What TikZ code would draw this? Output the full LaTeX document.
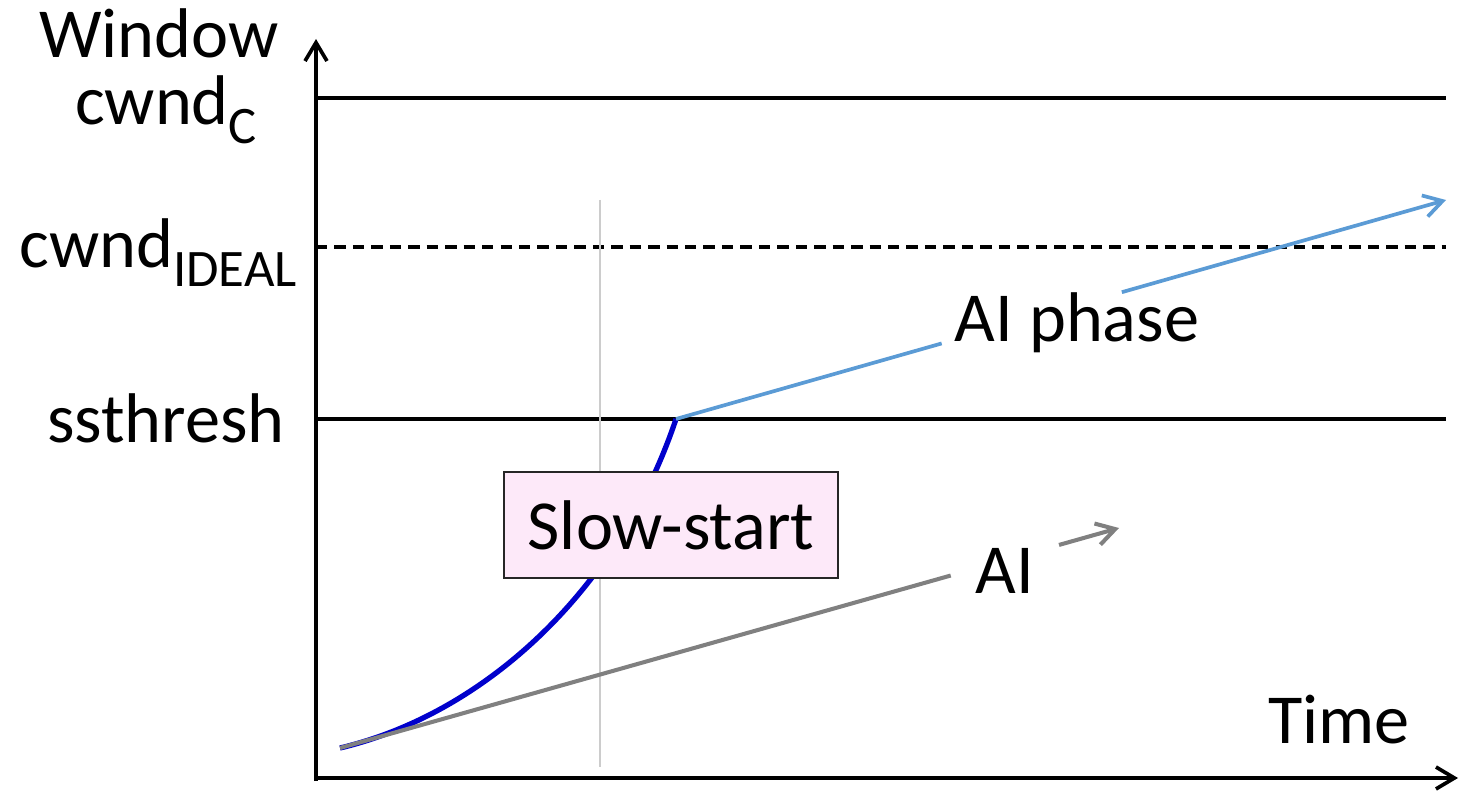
\documentclass[tikz,border=0pt]{standalone}
\usepackage{fontspec}
\setmainfont{Carlito}
\usetikzlibrary{arrows.meta,calc}

\definecolor{ssblue}{RGB}{0,0,204}
\definecolor{aiblue}{RGB}{91,155,213}
\definecolor{aigray}{RGB}{128,128,128}
\definecolor{sspink}{RGB}{253,233,249}

\newcommand\lowtext[1]{\raisebox{-0.26em}{\fontsize{30}{30}\selectfont #1}}

\tikzset{
	barb/.style={-{Straight Barb[length=10.5pt,width=12.5pt]}},
	axis/.style={line width=2.1pt,barb},
	level/.style={line width=2.1pt},
	lbl/.style={font=\fontsize{40}{48}\selectfont,inner sep=0pt,anchor=base}
}

\begin{document}
\begin{tikzpicture}[x=0.2mm,y=-0.2mm]
	\useasboundingbox (0,0) rectangle (1461,791);

	    % axes
	    \coordinate (o) at (316,778) ;
	    \draw[axis] (316,781) -- (316,39) ;
	    \draw[axis] (o) -- (1458,778) ;
	    \node[lbl] (win) at (159,58) {Window} ;
	    \node[lbl] (time) at (1339,743) {Time} ;

	    % levels
	    \draw[level] (316,98) -- (1446,98) ;
	    \draw[level,dashed,dash pattern=on 6.5pt off 4pt] (316,247) -- (1446,247) ;
	    \draw[level] (316,419) -- (1446,419) ;
	    \node[lbl] (cwc) at (166,125) {cwnd\lowtext{C}} ;
	    \node[lbl] (cwi) at (158,268) {cwnd\lowtext{IDEAL}} ;
	    \node[lbl] (ssth) at (166,443) {ssthresh} ;

	    \draw[gray!40,line width=0.7pt] (600,200) -- (600,767) ;

	    % slow start
	    \coordinate (st) at (340,748) ;
	    \coordinate (ssk) at (676,419) ;
	    \draw[ssblue,line width=3pt] (st) .. controls (480,715) and (617,595) .. (ssk) ;
	    \node[lbl,anchor=center,draw=black!85,line width=1.2pt,fill=sspink,
	        minimum width=334*0.2mm,minimum height=106*0.2mm] (ss) at (671,525) {Slow-start} ;

	    % AI phase
	    \coordinate (phtip) at (1446,200) ;
	    \draw[aiblue,line width=2.1pt] (ssk) -- ($(ssk)!0.345!(phtip)$) ;
	    \draw[aiblue,line width=2.1pt,barb] ($(ssk)!0.579!(phtip)$) -- (phtip) ;
	    \node[lbl] (aiph) at (1077,342) {AI phase} ;

	    % AI
	    \coordinate (aitip) at (1119,528) ;
	    \draw[aigray,line width=2.3pt] (st) -- ($(st)!0.784!(aitip)$) ;
	    \draw[aigray,line width=2.3pt,barb] ($(st)!0.923!(aitip)$) -- (aitip) ;
	    \node[lbl] (ai) at (1005,593) {AI} ;

\end{tikzpicture}
\end{document}
